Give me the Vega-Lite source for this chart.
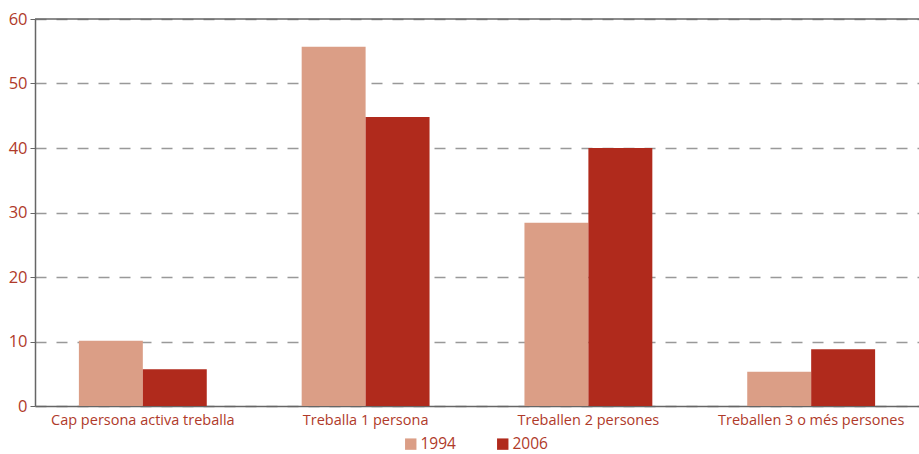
{
  "$schema": "https://vega.github.io/schema/vega-lite/v6.json",
  "width": 884,
  "height": 387,
  "autosize": {"type": "none"},
  "padding": {"left": 35, "top": 19, "right": 0, "bottom": 48},
  "background": "white",
  "config": {
    "view": {"stroke": null},
    "font": "Open Sans"
  },
  "data": {
    "values": [
      {"cat": "Cap persona activa treballa", "year": "1994", "value": 10.1},
      {"cat": "Cap persona activa treballa", "year": "2006", "value": 5.7},
      {"cat": "Treballa 1 persona", "year": "1994", "value": 55.7},
      {"cat": "Treballa 1 persona", "year": "2006", "value": 44.8},
      {"cat": "Treballen 2 persones", "year": "1994", "value": 28.4},
      {"cat": "Treballen 2 persones", "year": "2006", "value": 40.0},
      {"cat": "Treballen 3 o més persones", "year": "1994", "value": 5.3},
      {"cat": "Treballen 3 o més persones", "year": "2006", "value": 8.8}
    ]
  },
  "layer": [
    {
      "mark": {"type": "bar"},
      "encoding": {
        "x": {
          "field": "cat", "type": "nominal", "sort": null,
          "scale": {"paddingInner": 0.426, "paddingOuter": 0.197},
          "axis": {
            "title": null, "labelAngle": 0, "labelFontSize": 14.5, "labelLimit": 0,
            "labelColor": "#B03A2A", "domainColor": "#666666", "domainWidth": 1.5,
            "ticks": false, "labelPadding": 7
          }
        },
        "xOffset": {"field": "year", "type": "nominal"},
        "y": {
          "field": "value", "type": "quantitative",
          "scale": {"domain": [0, 60], "nice": false},
          "axis": {
            "title": null, "values": [0, 10, 20, 30, 40, 50, 60],
            "labelFontSize": 16.5, "labelColor": "#B03A2A",
            "domainColor": "#666666", "domainWidth": 1.5,
            "tickColor": "#666666", "tickSize": 5, "labelPadding": 3,
            "grid": true, "gridColor": "#999999", "gridDash": [11, 10], "gridWidth": 1.5
          }
        },
        "color": {
          "field": "year", "type": "nominal",
          "scale": {"domain": ["1994", "2006"], "range": ["#DB9E86", "#B02A1C"]},
          "legend": {
            "title": null, "orient": "none", "legendX": 368, "legendY": 417,
            "direction": "horizontal",
            "symbolType": "square", "symbolSize": 130, "symbolStrokeWidth": 0,
            "labelFontSize": 15.5, "labelColor": "#B03A2A", "columnPadding": 39,
            "labelOffset": 2
          }
        }
      }
    },
    {
      "data": {"values": [{"v": 60}]},
      "mark": {"type": "rule", "color": "#666666", "strokeWidth": 1.5},
      "encoding": {"y": {"field": "v", "type": "quantitative"}}
    }
  ]
}
